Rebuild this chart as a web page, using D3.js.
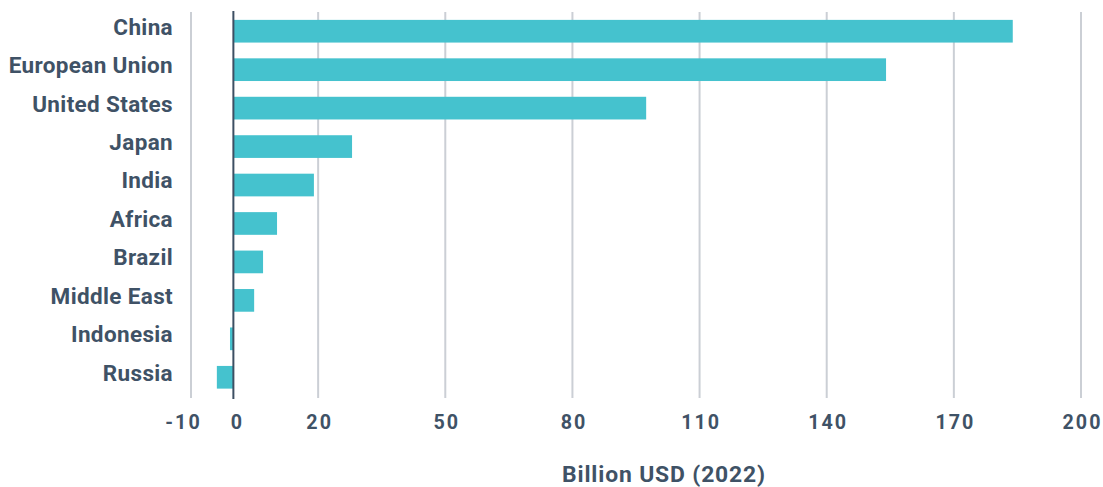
<!DOCTYPE html>
<html>
<head>
<meta charset="utf-8">
<script src="https://cdn.jsdelivr.net/npm/d3@7"></script>
<style>
  html, body { margin: 0; padding: 0; background: #ffffff; }
  svg { display: block; }
  text { font-family: "Roboto", "Liberation Sans", sans-serif; fill: #3f5266; }
</style>
</head>
<body>
<svg id="chart" width="1103" height="487"></svg>
<script>
// Net change by economy, billion USD (2022)
const regions = ["China", "European Union", "United States", "Japan", "India",
                 "Africa", "Brazil", "Middle East", "Indonesia", "Russia"];
const values = [183.9, 154.0, 97.4, 28.0, 19.0, 10.3, 7.0, 4.9, -0.8, -3.9];
const tickValues = [-10, 0, 20, 50, 80, 110, 140, 170, 200];
const axisTitle = "Billion USD (2022)";

const TEXT_COLOR = "#3f5266";

const svg = d3.select("#chart");

const x = d3.scaleLinear().domain([-10, 200]).range([191, 1081]);
const y = d3.scaleBand().domain(regions).range([12, 396.5])
  .paddingInner(0.41).paddingOuter(0.205);

// vertical gridlines
svg.append("g")
  .selectAll("line")
  .data(tickValues.filter(d => d !== 0))
  .join("line")
  .attr("x1", d => x(d)).attr("x2", d => x(d))
  .attr("y1", 12).attr("y2", 398)
  .attr("stroke", "#cbcfd5")
  .attr("stroke-width", 2);

// bars
svg.append("g")
  .selectAll("rect")
  .data(regions.map((r, i) => ({ r, v: values[i] })))
  .join("rect")
  .attr("x", d => x(Math.min(0, d.v)))
  .attr("width", d => Math.abs(x(d.v) - x(0)))
  .attr("y", d => y(d.r))
  .attr("height", y.bandwidth())
  .attr("fill", "#45c2ce");

// zero baseline
svg.append("line")
  .attr("x1", x(0)).attr("x2", x(0))
  .attr("y1", 11).attr("y2", 399)
  .attr("stroke", "#3d4f63")
  .attr("stroke-width", 2);

// category labels
svg.append("g")
  .selectAll("text")
  .data(regions)
  .join("text")
  .attr("x", 173)
  .attr("y", d => y(d) + y.bandwidth() / 2)
  .attr("dy", 3.4)
  .attr("text-anchor", "end")
  .attr("font-size", 22.5)
  .attr("font-weight", 700)
  .attr("letter-spacing", 0.35)
  .text(d => d);

// x axis tick labels (plain hyphen for negatives)
const xAxis = d3.axisBottom(x).tickValues(tickValues).tickSize(0).tickPadding(0)
  .tickFormat(d => String(d));
const gx = svg.append("g").attr("transform", "translate(0,428.7)").call(xAxis);
gx.select(".domain").remove();
gx.attr("font-family", null).attr("font-size", null);
gx.selectAll("text")
  .attr("y", 0).attr("dy", 0)
  .attr("font-size", 19.7)
  .attr("font-weight", 700)
  .attr("letter-spacing", 2)
  .attr("fill", TEXT_COLOR)
  .attr("dx", d => (d === -10 ? -9 : d === 0 ? 2.5 : 0) + 1);

// axis title
svg.append("text")
  .attr("x", 664).attr("y", 482)
  .attr("text-anchor", "middle")
  .attr("font-size", 22.9)
  .attr("font-weight", 700)
  .attr("letter-spacing", 0.85)
  .text(axisTitle);
</script>
</body>
</html>
